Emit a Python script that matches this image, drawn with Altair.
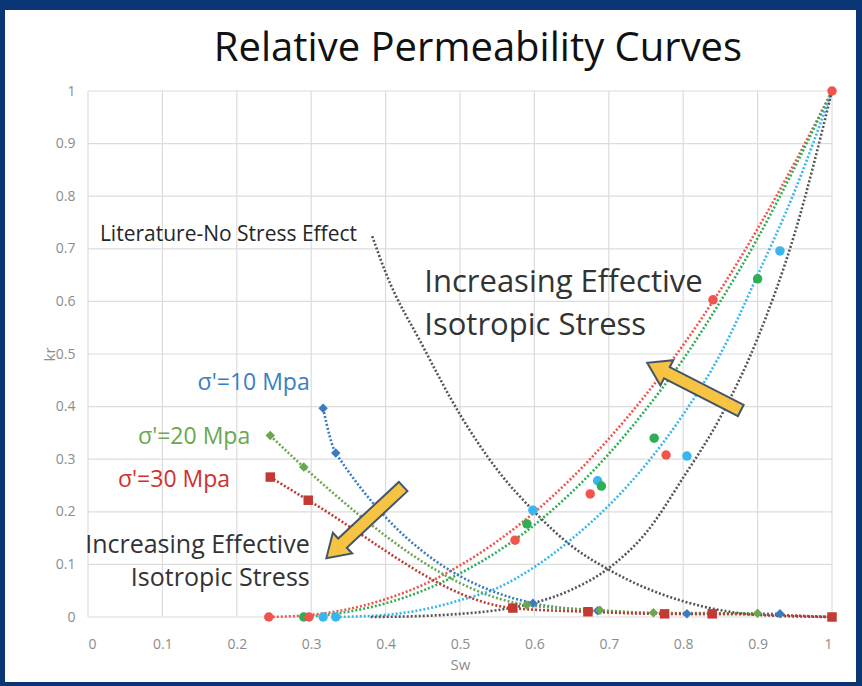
import altair as alt
import pandas as pd

# ---------------- measured points ----------------
# krw (water) - circles
krw10_sw = [0.316, 0.333, 0.598, 0.685, 0.805, 0.930]
krw10_kr = [0.0, 0.0, 0.203, 0.259, 0.306, 0.696]
krw20_sw = [0.290, 0.590, 0.690, 0.761, 0.900]
krw20_kr = [0.0, 0.177, 0.249, 0.340, 0.643]
krw30_sw = [0.243, 0.297, 0.574, 0.675, 0.777, 0.840, 1.000]
krw30_kr = [0.0, 0.0, 0.146, 0.234, 0.308, 0.603, 1.000]

# kro (oil) - diamonds / squares
kro10_sw = [0.316, 0.333, 0.598, 0.685, 0.805, 0.930]
kro10_kr = [0.397, 0.312, 0.026, 0.012, 0.006, 0.006]
kro20_sw = [0.245, 0.290, 0.590, 0.688, 0.760, 0.900]
kro20_kr = [0.345, 0.285, 0.023, 0.013, 0.008, 0.007]
kro30_sw = [0.245, 0.296, 0.571, 0.672, 0.775, 0.839, 1.000]
kro30_kr = [0.266, 0.222, 0.017, 0.010, 0.006, 0.006, 0.000]

# ---------------- dotted trend curves ----------------
fit_krw30_sw = [0.243, 0.30, 0.35, 0.40, 0.45, 0.50, 0.55, 0.60, 0.65, 0.70, 0.75, 0.80, 0.85, 0.90, 0.95, 1.00]
fit_krw30_kr = [0.0, 0.004, 0.015, 0.034, 0.061, 0.098, 0.144, 0.199, 0.264, 0.339, 0.423, 0.517, 0.622, 0.738, 0.864, 1.0]
fit_krw20_sw = [0.290, 0.35, 0.40, 0.45, 0.50, 0.55, 0.60, 0.65, 0.70, 0.75, 0.80, 0.85, 0.90, 0.95, 1.00]
fit_krw20_kr = [0.0, 0.010, 0.026, 0.050, 0.083, 0.124, 0.175, 0.237, 0.310, 0.395, 0.490, 0.600, 0.720, 0.855, 1.0]
fit_krw10_sw = [0.333, 0.40, 0.45, 0.50, 0.55, 0.60, 0.65, 0.70, 0.75, 0.80, 0.85, 0.90, 0.95, 1.00]
fit_krw10_kr = [0.0, 0.004, 0.014, 0.032, 0.055, 0.095, 0.148, 0.212, 0.290, 0.385, 0.500, 0.650, 0.810, 1.0]
lit_krw_sw = [0.38, 0.45, 0.50, 0.55, 0.60, 0.65, 0.70, 0.75, 0.80, 0.85, 0.90, 0.95, 1.00]
lit_krw_kr = [0.0, 0.002, 0.006, 0.013, 0.027, 0.052, 0.093, 0.160, 0.265, 0.380, 0.530, 0.730, 1.0]
lit_kro_sw = [0.382, 0.40, 0.45, 0.50, 0.55, 0.60, 0.65, 0.70, 0.75, 0.80, 0.85, 0.90, 1.00]
lit_kro_kr = [0.724, 0.655, 0.515, 0.385, 0.280, 0.200, 0.135, 0.090, 0.055, 0.030, 0.013, 0.004, 0.0]

x_ticks = [0, 0.1, 0.2, 0.3, 0.4, 0.5, 0.6, 0.7, 0.8, 0.9, 1]
y_ticks = [0, 0.1, 0.2, 0.3, 0.4, 0.5, 0.6, 0.7, 0.8, 0.9, 1]

# ---------------- tables ----------------
def rows(sw, kr, name):
    return [{"sw": a, "kr": b, "curve": name} for a, b in zip(sw, kr)]

lines = pd.DataFrame(
    rows(fit_krw30_sw, fit_krw30_kr, "w30") + rows(fit_krw20_sw, fit_krw20_kr, "w20")
    + rows(fit_krw10_sw, fit_krw10_kr, "w10") + rows(lit_krw_sw, lit_krw_kr, "litw")
    + rows(lit_kro_sw, lit_kro_kr, "lito") + rows(kro10_sw, kro10_kr, "o10")
    + rows(kro20_sw, kro20_kr, "o20") + rows(kro30_sw, kro30_kr, "o30")
)
points = pd.DataFrame(
    rows(krw10_sw, krw10_kr, "w10") + rows(krw20_sw, krw20_kr, "w20") + rows(krw30_sw, krw30_kr, "w30")
    + rows(kro10_sw, kro10_kr, "o10") + rows(kro20_sw, kro20_kr, "o20") + rows(kro30_sw, kro30_kr, "o30")
)

FONT = "Open Sans"
xs = alt.Scale(domain=[0, 1], nice=False)
ys = alt.Scale(domain=[0, 1], nice=False)

X = alt.X("sw:Q", scale=xs, axis=alt.Axis(values=x_ticks, format="~g", title="Sw", grid=False,
                                          labelPadding=20, titlePadding=6, ticks=False, domain=False, zindex=1))
Y = alt.Y("kr:Q", scale=ys, axis=alt.Axis(values=y_ticks, format="~g", title="kr", grid=False,
                                          labelPadding=13, titlePadding=-2, ticks=False, domain=False, zindex=1))

line_dom = ["w30", "w20", "w10", "litw", "lito", "o10", "o20", "o30"]
line_col = ["#f0544c", "#2fae55", "#38b6ef", "#555555", "#555555", "#3a7cc3", "#6aa84f", "#c23a33"]

bg = alt.Chart(alt.Data(values=[{}])).mark_rect(color="white").encode(
    x=alt.value(-83), x2=alt.value(768), y=alt.value(-81), y2=alt.value(591))

vgrid = alt.Chart(pd.DataFrame({"sw": x_ticks})).mark_rule(color="#dcdcdc", strokeWidth=1.2).encode(x=X)
hgrid = alt.Chart(pd.DataFrame({"kr": y_ticks})).mark_rule(color="#dcdcdc", strokeWidth=1.2).encode(y=Y)

curve_layer = alt.Chart(lines).mark_line(strokeDash=[2, 2], strokeWidth=2.6, interpolate="monotone").encode(
    x="sw:Q", y="kr:Q",
    color=alt.Color("curve:N", scale=alt.Scale(domain=line_dom, range=line_col), legend=None),
    detail="curve:N",
)

pt_dom = ["w10", "w20", "w30", "o10", "o20", "o30"]
pt_col = ["#1b9ad6", "#1f9a48", "#e3161c", "#1f6cb3", "#5d9e3c", "#a8101c"]
pt_shape = ["circle", "circle", "circle", "diamond", "diamond", "square"]
pt_size = [90, 90, 90, 50, 50, 45]

point_layer = alt.Chart(points).mark_point(filled=True, opacity=1).encode(
    x="sw:Q", y="kr:Q",
    color=alt.Color("curve:N", scale=alt.Scale(domain=pt_dom, range=pt_col), legend=None),
    shape=alt.Shape("curve:N", scale=alt.Scale(domain=pt_dom, range=pt_shape), legend=None),
    size=alt.Size("curve:N", scale=alt.Scale(domain=pt_dom, range=pt_size), legend=None),
)


def label(text, x, y, size, color, align="left"):
    return alt.Chart(alt.Data(values=[{"sw": x, "kr": y, "t": text}])).mark_text(
        align=align, baseline="middle", fontSize=size, font=FONT, color=color
    ).encode(x="sw:Q", y="kr:Q", text="t:N")


ARROW = "M -1 -0.12 L 0.58 -0.12 L 0.58 -0.27 L 1 0 L 0.58 0.27 L 0.58 0.12 L -1 0.12 Z"


def arrow(x, y, angle, length):
    return alt.Chart(alt.Data(values=[{"sw": x, "kr": y}])).mark_point(
        shape=ARROW, filled=True, fill="#f6c343", stroke="#44546a", strokeWidth=2,
        size=length * length, angle=angle, opacity=1, fillOpacity=1
    ).encode(x="sw:Q", y="kr:Q")


title = alt.Chart(alt.Data(values=[{}])).mark_text(
    text="Relative Permeability Curves", font=FONT, fontSize=40, color="#111111",
    align="center", baseline="middle"
).encode(x=alt.value(390), y=alt.value(-42))

texts = [
    label("Literature-No Stress Effect", 0.016, 0.726, 21, "#262626"),
    label("Increasing Effective", 0.452, 0.635, 31, "#333333"),
    label("Isotropic Stress", 0.452, 0.553, 31, "#333333"),
    label("Increasing Effective", 0.298, 0.137, 25, "#333333", align="right"),
    label("Isotropic Stress", 0.298, 0.074, 25, "#333333", align="right"),
    label("σ'=10 Mpa", 0.298, 0.445, 23, "#3a7fc2", align="right"),
    label("σ'=20 Mpa", 0.218, 0.342, 23, "#6aa84f", align="right"),
    label("σ'=30 Mpa", 0.191, 0.260, 23, "#d0312d", align="right"),
]

arrows = [arrow(0.8145, 0.438, 207, 105), arrow(0.372, 0.180, 137, 105)]

chart = alt.layer(bg, vgrid, hgrid, curve_layer, point_layer, title, *texts, *arrows).properties(
    width=744, height=526,
    autosize=alt.AutoSizeParams(type="none"),
    padding={"left": 88, "top": 91, "right": 30, "bottom": 69},
    background="#0b3675",
).configure_view(stroke=None).configure_axis(
    labelColor="#8c8c8c", labelFont=FONT, labelFontSize=14,
    titleColor="#8c8c8c", titleFont=FONT, titleFontSize=15, titleFontWeight="normal"
)

chart.save("out.html", embed_options={"renderer": "svg", "actions": False})
